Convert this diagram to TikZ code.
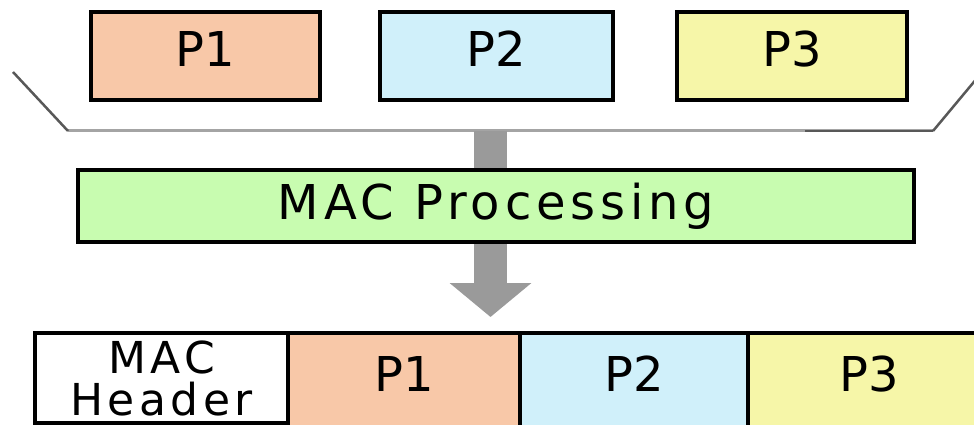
\documentclass[tikz,border=0pt]{standalone}
\usepackage{fontspec}
\setmainfont{DejaVu Sans}
\newfontfamily\widefont[LetterSpace=10]{DejaVu Sans}
\usetikzlibrary{arrows.meta}
\definecolor{peach}{HTML}{F8C8A8}
\definecolor{skyb}{HTML}{D0F0FA}
\definecolor{lemon}{HTML}{F6F6A8}
\definecolor{mint}{HTML}{C8FCB0}
\definecolor{arrowgray}{HTML}{9A9A9A}
\definecolor{rimgray}{HTML}{A4A4A4}
\definecolor{darkrim}{HTML}{585858}
\tikzset{
  pkt/.style={draw=black, line width=4.5pt, inner sep=0pt, anchor=center,
    font=\fontsize{48}{48}\selectfont, text height=35pt, text depth=14pt},
  flowarrow/.style={line width=33pt, arrowgray,
    -{Triangle[width=80pt,length=34pt]}},
  rim/.style={rimgray, line width=3pt},
  rimedge/.style={darkrim, line width=2.5pt},
}
\begin{document}
\begin{tikzpicture}[x=1pt,y=-1pt]
\useasboundingbox (0,0) rectangle (974,425);
% bracket gathering the three packets
\coordinate (bl0) at (13,72);
\coordinate (bl1) at (68,131);
\coordinate (br1) at (933,131);
\coordinate (br0) at (978,77);
\coordinate (bdk) at (805,131);
\draw[rim] (bl1) -- (br1);
\draw[rimedge] (bdk) -- (br1);
\draw[rimedge] (bl0) -- (bl1);
\draw[rimedge] (br1) -- (br0);
% flow arrow, behind the processing box
\coordinate (src) at (490.5,131);
\coordinate (dst) at (490.5,317);
\draw[flowarrow] (src) -- (dst);
% incoming packets
\node[pkt, fill=peach, minimum width=229pt, minimum height=88pt] (p1) at (205.5,56) {P1};
\node[pkt, fill=skyb, minimum width=233pt, minimum height=88pt] (p2) at (496.5,56) {P2};
\node[pkt, fill=lemon, minimum width=230pt, minimum height=88pt] (p3) at (792,56) {P3};
% processing stage
\node[pkt, fill=mint, minimum width=836pt, minimum height=72pt, text depth=9pt,
  font=\widefont\fontsize{48}{48}\selectfont] (mac) at (496,206) {MAC Processing};
% aggregated frame
\node[pkt, fill=white, minimum width=253pt, minimum height=90pt, align=center,
  text height=, text depth=, font=\widefont\fontsize{44}{42}\selectfont] (hdr) at (161.5,378) {MAC\\Header};
\node[pkt, fill=peach, minimum width=232pt, minimum height=107pt, text depth=25pt] (q1) at (404,386.5) {P1};
\node[pkt, fill=skyb, minimum width=228pt, minimum height=107pt, text depth=25pt] (q2) at (634,386.5) {P2};
\node[pkt, fill=lemon, minimum width=242pt, minimum height=107pt, text depth=25pt] (q3) at (869,386.5) {P3};
\end{tikzpicture}
\end{document}
